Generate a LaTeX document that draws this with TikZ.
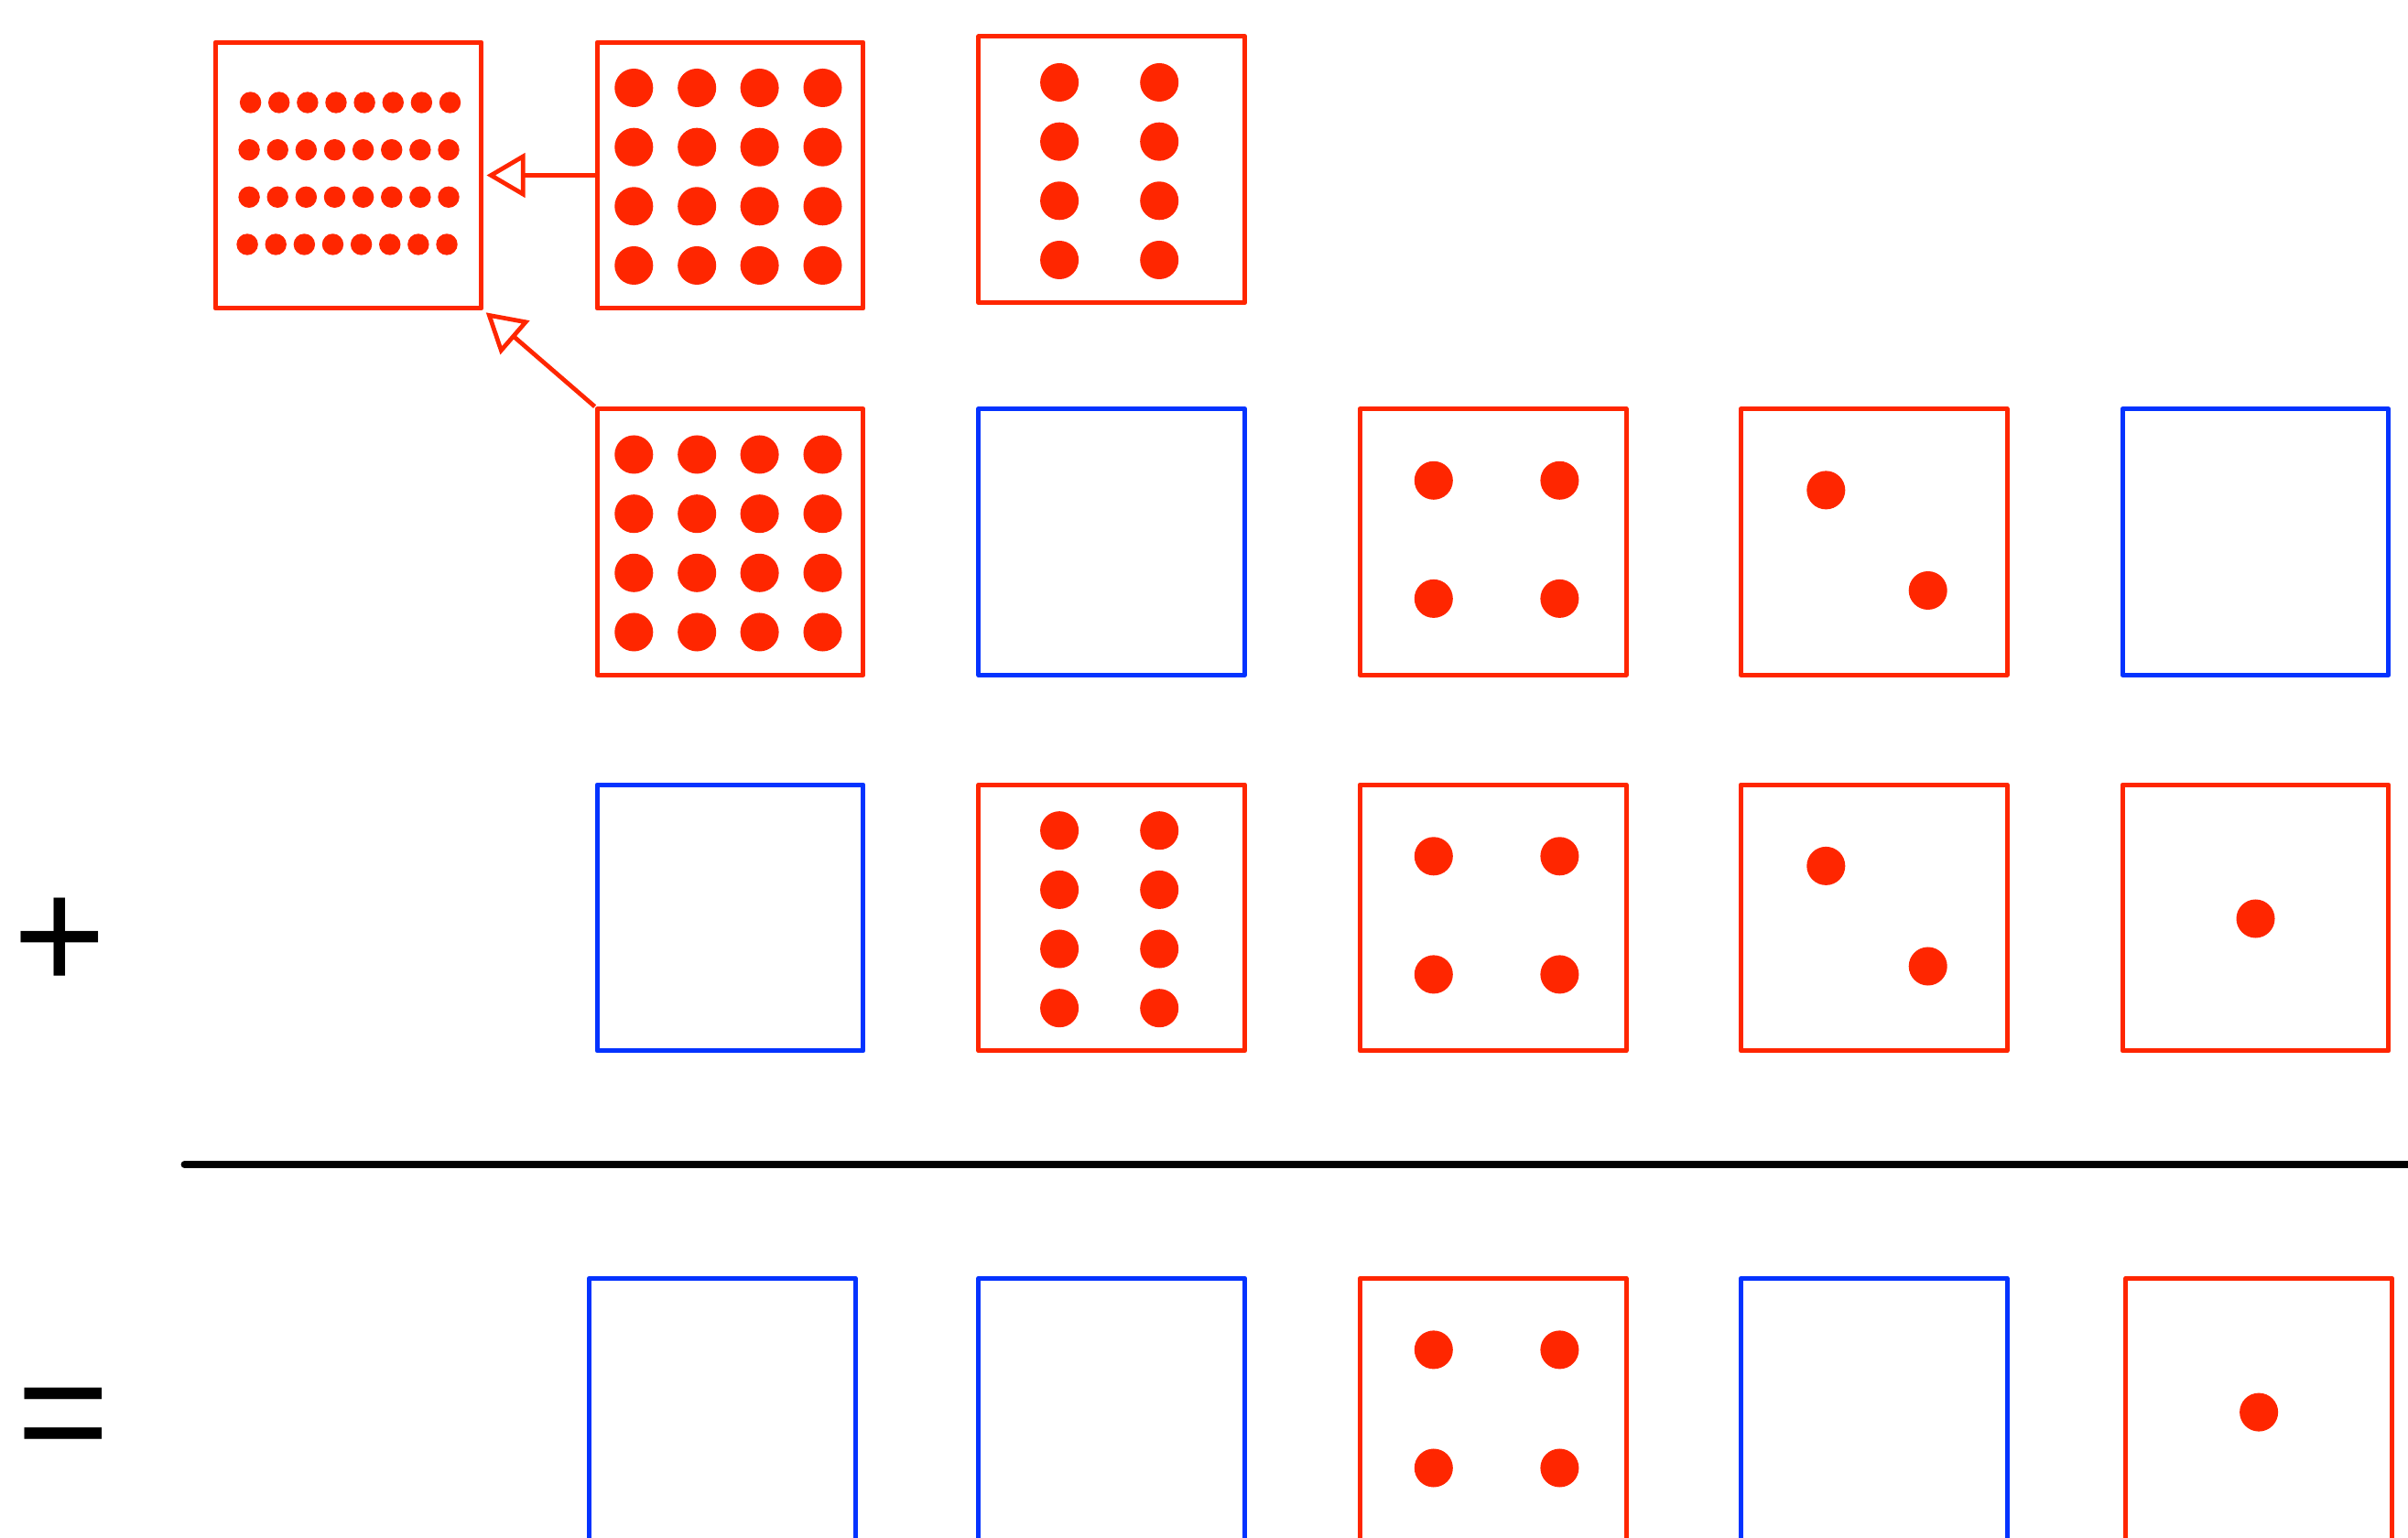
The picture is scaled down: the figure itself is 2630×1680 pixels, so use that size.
\documentclass[tikz,border=0pt]{standalone}
\usepackage{fontspec}
\setmainfont{Liberation Sans}
\usetikzlibrary{arrows.meta}
\definecolor{myred}{HTML}{FF2600}
\definecolor{myblue}{HTML}{0433FF}
\newcommand\patSixteen{\foreach \dx in {-105.2,-36.3,32.1,101}{\foreach \dy in {-95.5,-30.8,33.8,98.5}{\fill[myred] (\dx,\dy) circle[radius=0.21cm];}}}
\newcommand\patEight{\foreach \dx in {-57.1,52}{\foreach \dy in {-95.3,-30.6,34,98.7}{\fill[myred] (\dx,\dy) circle[radius=0.21cm];}}}
\newcommand\patFour{\foreach \dx in {-64.8,72.8}{\foreach \dy in {-67.2,61.9}{\fill[myred] (\dx,\dy) circle[radius=0.21cm];}}}
\newcommand\patTwo{\fill[myred] (-52.3,-56.6) circle[radius=0.21cm]; \fill[myred] (59.1,53) circle[radius=0.21cm];}
\newcommand\patOne{\fill[myred] (0,1) circle[radius=0.21cm];}
\begin{document}
\begin{tikzpicture}[x=0.01cm, y=-0.01cm,
  card/.style={draw, line width=1.42pt, minimum width=2.906cm, minimum height=2.906cm, inner sep=0pt, line join=round},
  rcard/.style={card, draw=myred},
  bcard/.style={card, draw=myblue},
  conn/.style={draw=myred, line width=1.35pt, -{Triangle[open, length=0.42cm, width=0.48cm, fill=white]}, shorten >=0.03cm},
  sign/.style={font=\fontsize{49.5}{50}\selectfont, inner sep=0pt, anchor=base},
  rule/.style={line width=2.2pt, line cap=round}
]
\useasboundingbox (0,0) rectangle (2630,1680);
\fill[white] (0,0) rectangle (2630,1680);

% row 0
\node[rcard] (c0) at (380.6,191.5) {};
\node[rcard] (r0c1) at (797.5,191.5) {};
\node[rcard] (r0c2) at (1214.2,185.3) {};
% row 1
\node[rcard] (r1c1) at (797.5,592) {};
\node[bcard] (r1c2) at (1214.2,592) {};
\node[rcard] (r1c3) at (1630.6,592) {};
\node[rcard] (r1c4) at (2046.6,592) {};
\node[bcard] (r1c5) at (2463.5,592) {};
% row 2
\node[bcard] (r2c1) at (797.5,1002.5) {};
\node[rcard] (r2c2) at (1214.2,1002.5) {};
\node[rcard] (r2c3) at (1630.6,1002.5) {};
\node[rcard] (r2c4) at (2046.6,1002.5) {};
\node[rcard] (r2c5) at (2463.5,1002.5) {};
% row 3
\node[bcard] (r3c1) at (788.7,1541.6) {};
\node[bcard] (r3c2) at (1214.2,1541.6) {};
\node[rcard] (r3c3) at (1630.6,1541.6) {};
\node[bcard] (r3c4) at (2046.6,1541.6) {};
\node[rcard] (r3c5) at (2467.1,1541.6) {};

% small dots in c0
\begin{scope}[shift={(380.6,191.5)}]
\foreach \xs/\yy in {-107/-79.5,-108.5/-27.8,-108.5/23.8,-110.5/75.5}{
  \foreach \i in {0,...,7}{\fill[myred] (\xs+\i*31.13,\yy) circle[radius=0.117cm];}}
\end{scope}

\begin{scope}[shift={(797.5,191.5)}]\patSixteen\end{scope}
\begin{scope}[shift={(1214.2,185.3)}]\patEight\end{scope}
\begin{scope}[shift={(797.5,592)}]\patSixteen\end{scope}
\begin{scope}[shift={(1630.6,592)}]\patFour\end{scope}
\begin{scope}[shift={(2046.6,592)}]\patTwo\end{scope}
\begin{scope}[shift={(1214.2,1002.5)}]\patEight\end{scope}
\begin{scope}[shift={(1630.6,1002.5)}]\patFour\end{scope}
\begin{scope}[shift={(2046.6,1002.5)}]\patTwo\end{scope}
\begin{scope}[shift={(2463.5,1002.5)}]\patOne\end{scope}
\begin{scope}[shift={(1630.6,1541.6)}]\patFour\end{scope}
\begin{scope}[shift={(2467.1,1541.6)}]\patOne\end{scope}

% connectors
\draw[conn] (r0c1.west) -- (c0.east);
\draw[conn] (r1c1.north west) -- (c0.south east);

% rule
\coordinate (ruleL) at (201.5,1272);
\coordinate (ruleR) at (2700,1272);
\draw[rule] (ruleL) -- (ruleR);

% signs
\node[sign] (plus) at (65.5,1082) {+};
\node[sign] (eq) at (69.5,1601) {=};
\end{tikzpicture}
\end{document}
